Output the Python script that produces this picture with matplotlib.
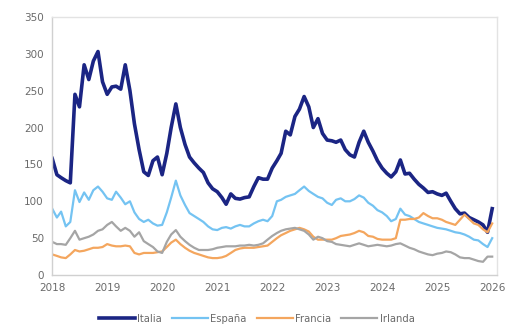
import matplotlib
matplotlib.use('Agg')
import matplotlib.pyplot as plt
import matplotlib.dates as mdates
import pandas as pd

# Diferenciales mensuales (pb), ene-2018 .. ene-2026
italia = [
    158, 136, 132, 128, 125, 245, 228, 285, 265, 290, 303, 262,  # 2018
    245, 255, 256, 252, 285, 250, 205, 170, 140, 135, 155, 160,  # 2019
    136, 165, 200, 232, 200, 177, 160, 152, 145, 139, 125, 117,  # 2020
    113, 105, 96, 110, 104, 103, 105, 106, 120, 132, 130, 130,   # 2021
    145, 155, 165, 195, 190, 215, 225, 242, 228, 200, 212, 192,  # 2022
    183, 182, 180, 183, 170, 163, 160, 180, 195, 180, 168, 155,  # 2023
    145, 138, 133, 140, 156, 137, 138, 130, 123, 118, 112, 113,  # 2024
    110, 108, 111, 100, 90, 83, 84, 78, 75, 72, 68, 58,          # 2025
    90,                                                          # 2026
]
espana = [
    90, 78, 86, 66, 72, 115, 99, 112, 102, 115, 120, 113,
    104, 102, 113, 105, 96, 100, 85, 76, 72, 75, 70, 67,
    68, 85, 105, 128, 108, 95, 84, 80, 76, 72, 66, 62,
    61, 64, 65, 63, 66, 68, 66, 66, 70, 73, 75, 73,
    80, 100, 102, 106, 108, 110, 115, 120, 114, 110, 106, 104,
    98, 95, 102, 104, 100, 100, 103, 108, 105, 98, 94, 88,
    85, 80, 73, 76, 90, 82, 80, 76, 72, 70, 68, 66,
    64, 63, 62, 60, 58, 57, 55, 52, 48, 47, 42, 38,
    50,
]
francia = [
    28, 26, 24, 23, 28, 34, 32, 33, 35, 37, 37, 38,
    42, 40, 39, 39, 40, 39, 30, 28, 30, 30, 30, 31,
    32, 38, 44, 48, 42, 37, 33, 30, 28, 26, 24, 23,
    23, 24, 26, 30, 34, 36, 37, 37, 37, 38, 39, 40,
    45, 50, 54, 57, 60, 62, 64, 62, 59, 52, 48, 48,
    48, 48, 50, 53, 54, 55, 57, 60, 58, 53, 52, 49,
    48, 48, 48, 50, 75, 75, 76, 76, 78, 84, 80, 77,
    77, 75, 72, 70, 68, 75, 82, 76, 70, 68, 62, 58,
    70,
]
irlanda = [
    45, 42, 42, 41, 50, 60, 48, 50, 52, 55, 60, 62,
    68, 72, 66, 60, 64, 60, 52, 58, 46, 42, 38, 32,
    30, 45, 55, 61, 52, 46, 41, 37, 34, 34, 34, 35,
    37, 38, 39, 39, 39, 40, 40, 41, 40, 41, 43, 48,
    53, 57, 60, 62, 63, 64, 62, 60, 55, 48, 52, 50,
    46, 45, 42, 41, 40, 39, 41, 43, 41, 39, 40, 41,
    40, 39, 40, 42, 43, 40, 37, 35, 32, 30, 28, 27,
    29, 30, 32, 31, 28, 24, 23, 23, 21, 19, 18, 25,
    25,
]

fechas = pd.date_range('2018-01-01', periods=len(italia), freq='MS')
anios = list(range(2018, 2027))

fig = plt.figure(figsize=(5.07, 3.24), dpi=100)
ax = fig.add_axes([0.103, 0.151, 0.877, 0.797])

ax.plot(fechas, italia, color='#1b2584', lw=2.6, label='Italia')
ax.plot(fechas, espana, color='#74c3f2', lw=1.6, label='España')
ax.plot(fechas, francia, color='#f4a65e', lw=1.6, label='Francia')
ax.plot(fechas, irlanda, color='#a5a5a5', lw=1.6, label='Irlanda')

ax.set_ylim(0, 350)
ax.set_yticks(range(0, 351, 50))
ax.set_xlim(pd.Timestamp('2018-01-01'), pd.Timestamp('2026-02-01'))
ax.set_xticks([pd.Timestamp(f'{a}-01-01') for a in anios])
ax.xaxis.set_major_formatter(mdates.DateFormatter('%Y'))

for s in ax.spines.values():
    s.set_color('#e3e3e3')
    s.set_linewidth(1.0)
ax.spines['left'].set_color('#d0d0d0')
ax.spines['bottom'].set_color('#d0d0d0')
ax.tick_params(axis='both', length=0, labelsize=7.5, labelcolor='#6a6a6a', pad=6)

# leyenda abajo, medio cortada como en el original
ax.legend(loc='center', bbox_to_anchor=(0.46, -0.17), ncol=4, frameon=False,
          fontsize=7.2, handlelength=3.6, columnspacing=1.0, handletextpad=0.25,
          labelcolor='#6a6a6a')

fig.savefig('out.png', dpi=100)
